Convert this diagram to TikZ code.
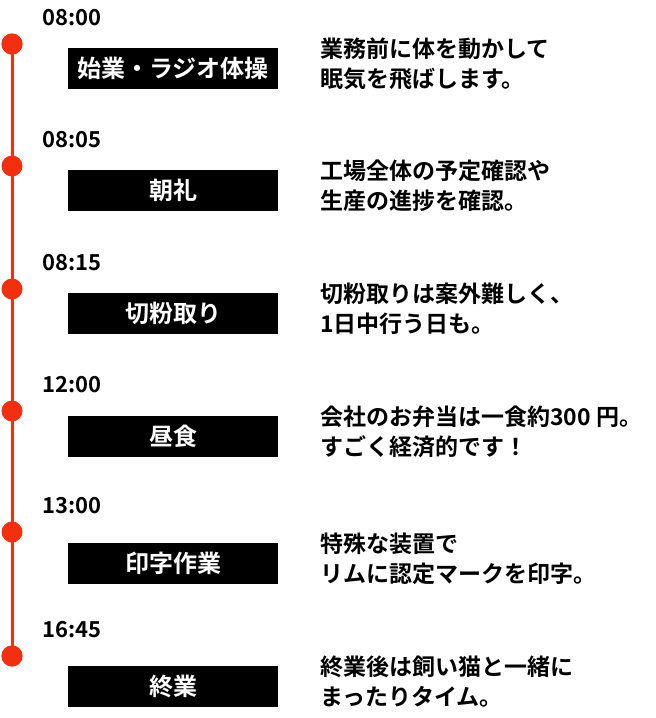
\documentclass[tikz,border=0pt]{standalone}
\usepackage{fontspec}
\setmainfont{Noto Sans CJK JP}[BoldFont={Noto Sans CJK JP Bold}]
\definecolor{tred}{HTML}{F2300F}
\begin{document}
\begin{tikzpicture}[x=1pt,y=-1pt,
  tm/.style={anchor=west,font=\bfseries\fontsize{22}{22}\selectfont,inner sep=0},
  bx/.style={fill=black,text=white,minimum width=210,minimum height=41,inner sep=0,font=\bfseries\fontsize{24}{24}\selectfont},
  ds/.style={anchor=north west,align=left,inner sep=0,font=\bfseries\fontsize{23}{30}\selectfont},
  dot/.style={circle,fill=tred,minimum size=21,inner sep=0}]
\useasboundingbox (0,0) rectangle (656,718);
\node[dot] (d1) at (12,44) {};
\node[dot] (d6) at (12,656) {};
\draw[tred,line width=3] (d1.center) -- (d6.center);
\foreach \n/\y/\by/\t/\b/\dA/\dB in {
 1/44/68/08:00/始業・ラジオ体操/業務前に体を動かして/眠気を飛ばします。,
 2/166/190/08:05/朝礼/工場全体の予定確認や/生産の進捗を確認。,
 3/289/313/08:15/切粉取り/切粉取りは案外難しく、/1日中行う日も。,
 4/411/436/12:00/昼食/会社のお弁当は一食約300 円。/すごく経済的です！,
 5/532/563/13:00/印字作業/特殊な装置で/リムに認定マークを印字。,
 6/656/686/16:45/終業/終業後は飼い猫と一緒に/まったりタイム。}{
 \node[dot] (p\n) at (12,\y) {};
 \node[tm] (t\n) at (42,\y-26) {\t};
 \node[bx] (b\n) at (173,\by) {\b};
 \node[ds] (s\n) at (320,\by-30) {\dA\\\dB};
}
\end{tikzpicture}
\end{document}
